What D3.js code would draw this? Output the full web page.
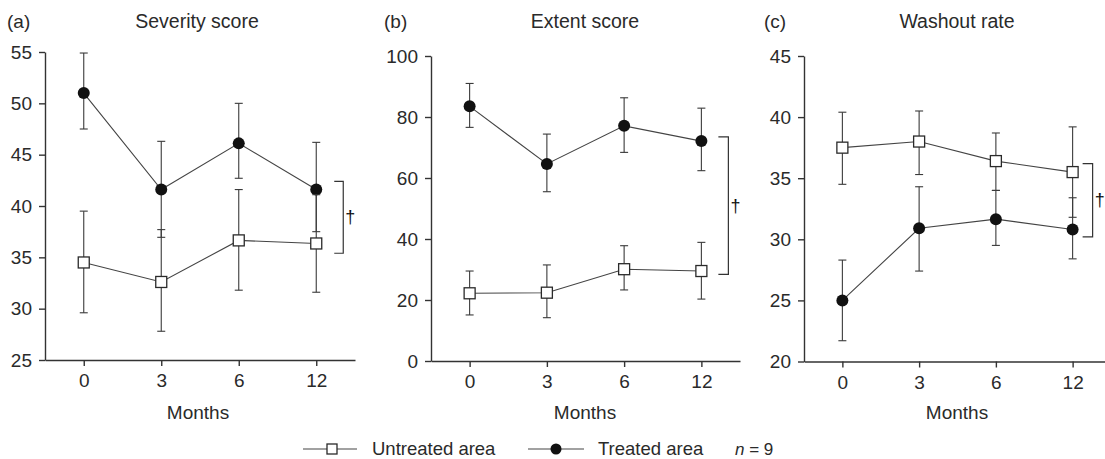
<!DOCTYPE html>
<html>
<head>
<meta charset="utf-8">
<script src="https://cdn.jsdelivr.net/npm/d3@7"></script>
<style>
  body { margin: 0; background: #fff; }
  svg { font-family: "Liberation Sans", Arial, Helvetica, sans-serif; }
  .axis path, .axis line { stroke: #333; stroke-width: 1.4; }
  .axis text { fill: #2a2a2a; font-size: 19px; }
</style>
</head>
<body>
<div id="graph"></div>
<script>
// Mois (axe X, commun aux trois panneaux)
var months = ["0", "3", "6", "12"];

var panelLetters = ["(a)", "(b)", "(c)"];
var panelTitles = ["Severity score", "Extent score", "Washout rate"];

// Graduations Y
var yTicksA = [25, 30, 35, 40, 45, 50, 55];
var yTicksB = [0, 20, 40, 60, 80, 100];
var yTicksC = [20, 25, 30, 35, 40, 45];

// (a) Severity score
var severityUntreated   = [34.5, 32.6, 36.65, 36.35];
var severityUntreatedHi = [39.5, 37.7, 41.6, 41.1];
var severityUntreatedLo = [29.6, 27.8, 31.8, 31.6];
var severityTreated     = [51.0, 41.6, 46.1, 41.6];
var severityTreatedHi   = [54.9, 46.3, 50.0, 46.2];
var severityTreatedLo   = [47.5, 36.95, 42.7, 37.5];

// (b) Extent score
var extentUntreated   = [22.2, 22.4, 30.1, 29.5];
var extentUntreatedHi = [29.5, 31.5, 37.8, 38.9];
var extentUntreatedLo = [15.1, 14.2, 23.3, 20.3];
var extentTreated     = [83.5, 64.6, 77.1, 72.1];
var extentTreatedHi   = [91.0, 74.4, 86.3, 82.9];
var extentTreatedLo   = [76.6, 55.5, 68.4, 62.4];

// (c) Washout rate
var washoutUntreated   = [37.5, 38.0, 36.4, 35.5];
var washoutUntreatedHi = [40.4, 40.5, 38.7, 39.2];
var washoutUntreatedLo = [34.5, 35.3, 34.0, 31.8];
var washoutTreated     = [25.0, 30.9, 31.65, 30.8];
var washoutTreatedHi   = [28.3, 34.3, 34.0, 33.4];
var washoutTreatedLo   = [21.7, 27.4, 29.5, 28.4];

// Crochets de significativité (haut, bas)
var bracketA = [42.4, 35.4];
var bracketB = [73.5, 28.4];
var bracketC = [36.2, 30.2];

var legendLabels = ["Untreated area", "Treated area"];

// Construction des panneaux à partir des tableaux
var panneaux = [
  { ticks: yTicksA, untreated: [severityUntreated, severityUntreatedHi, severityUntreatedLo],
    treated: [severityTreated, severityTreatedHi, severityTreatedLo], bracket: bracketA },
  { ticks: yTicksB, untreated: [extentUntreated, extentUntreatedHi, extentUntreatedLo],
    treated: [extentTreated, extentTreatedHi, extentTreatedLo], bracket: bracketB },
  { ticks: yTicksC, untreated: [washoutUntreated, washoutUntreatedHi, washoutUntreatedLo],
    treated: [washoutTreated, washoutTreatedHi, washoutTreatedLo], bracket: bracketC }
];

// Mise en page (pixels)
var mise = [
  { gauche: 45,  droite: 355,  haut: 52, bas: 360, brX: [18, 27], titreX: 197, moisX: 198, lettreX: 7 },
  { gauche: 431, droite: 740,  haut: 56, bas: 361, brX: [17, 27], titreX: 585, moisX: 585, lettreX: 384 },
  { gauche: 804, droite: 1111, haut: 56, bas: 361.5, brX: [10, 20], titreX: 957, moisX: 957, lettreX: 764 }
];

var svg = d3.select("#graph").append("svg")
    .attr("width", 1105)
    .attr("height", 459);

var couleur = "#2a2a2a";

panneaux.forEach(function(p, i) {
  var m = mise[i];
  var x = d3.scalePoint().domain(months).range([m.gauche, m.droite]).padding(0.5);
  var y = d3.scaleLinear().domain(d3.extent(p.ticks)).range([m.bas, m.haut]);

  var g = svg.append("g");

  // Axes
  g.append("g")
      .attr("class", "axis")
      .attr("transform", "translate(" + m.gauche + ",0)")
      .call(d3.axisLeft(y).tickValues(p.ticks).tickSize(6).tickSizeOuter(0).tickPadding(7));
  g.append("g")
      .attr("class", "axis")
      .attr("transform", "translate(0," + m.bas + ")")
      .call(d3.axisBottom(x).tickSize(6).tickSizeOuter(0).tickPadding(8));

  // Titres
  g.append("text").attr("x", m.lettreX).attr("y", 28)
      .style("font-size", "19px").attr("fill", "#2a2a2a").text(panelLetters[i]);
  g.append("text").attr("x", m.titreX).attr("y", 28).attr("text-anchor", "middle")
      .style("font-size", "19.5px").attr("fill", "#2a2a2a").text(panelTitles[i]);
  g.append("text").attr("x", m.moisX).attr("y", 419).attr("text-anchor", "middle")
      .style("font-size", "19px").attr("fill", "#2a2a2a").text("Months");

  [p.treated, p.untreated].forEach(function(serie, k) {
    var pts = months.map(function(mo, j) {
      return { mois: mo, v: serie[0][j], hi: serie[1][j], lo: serie[2][j] };
    });

    // Barres d'erreur
    var eb = g.append("g").attr("stroke", "#3a3a3a").attr("stroke-width", 1.1);
    eb.selectAll(".eb").data(pts).enter().append("line")
        .attr("x1", function(d) { return x(d.mois); })
        .attr("x2", function(d) { return x(d.mois); })
        .attr("y1", function(d) { return y(d.hi); })
        .attr("y2", function(d) { return y(d.lo); });
    eb.selectAll(".caphi").data(pts).enter().append("line")
        .attr("x1", function(d) { return x(d.mois) - 4; })
        .attr("x2", function(d) { return x(d.mois) + 4; })
        .attr("y1", function(d) { return y(d.hi); })
        .attr("y2", function(d) { return y(d.hi); });
    eb.selectAll(".caplo").data(pts).enter().append("line")
        .attr("x1", function(d) { return x(d.mois) - 4; })
        .attr("x2", function(d) { return x(d.mois) + 4; })
        .attr("y1", function(d) { return y(d.lo); })
        .attr("y2", function(d) { return y(d.lo); });

    // Ligne
    g.append("path")
        .datum(pts)
        .attr("fill", "none")
        .attr("stroke", "#444")
        .attr("stroke-width", 1.1)
        .attr("d", d3.line().x(function(d) { return x(d.mois); }).y(function(d) { return y(d.v); }));

    // Marqueurs
    if (k === 0) {
      g.selectAll(".pt" + i).data(pts).enter().append("circle")
          .attr("cx", function(d) { return x(d.mois); })
          .attr("cy", function(d) { return y(d.v); })
          .attr("r", 6)
          .attr("fill", "#111");
    } else {
      g.selectAll(".sq" + i).data(pts).enter().append("rect")
          .attr("x", function(d) { return x(d.mois) - 5.5; })
          .attr("y", function(d) { return y(d.v) - 5.5; })
          .attr("width", 11)
          .attr("height", 11)
          .attr("fill", "#fff")
          .attr("stroke", couleur)
          .attr("stroke-width", 1.3);
    }
  });

  // Crochet + dague
  var bx0 = x("12") + m.brX[0], bx1 = x("12") + m.brX[1];
  var bt = y(p.bracket[0]), bb = y(p.bracket[1]);
  g.append("path")
      .attr("fill", "none")
      .attr("stroke", "#333")
      .attr("stroke-width", 1.2)
      .attr("d", "M" + bx0 + "," + bt + "H" + bx1 + "V" + bb + "H" + bx0);
  g.append("text")
      .attr("x", bx1 + 2)
      .attr("y", (bt + bb) / 2 + 6)
      .style("font-size", "18px")
      .attr("fill", "#111")
      .text("\u2020");
});

// Légende
var leg = svg.append("g").attr("fill", "#2a2a2a").style("font-size", "18.5px");
var legY = 449;
leg.append("line").attr("x1", 303).attr("x2", 357).attr("y1", legY).attr("y2", legY)
    .attr("stroke", "#444").attr("stroke-width", 1.1);
leg.append("rect").attr("x", 327).attr("y", legY - 5).attr("width", 10).attr("height", 10)
    .attr("fill", "#fff").attr("stroke", couleur).attr("stroke-width", 1.3);
leg.append("text").attr("x", 372).attr("y", legY + 6).text(legendLabels[0]);
leg.append("line").attr("x1", 528).attr("x2", 584).attr("y1", legY).attr("y2", legY)
    .attr("stroke", "#444").attr("stroke-width", 1.1);
leg.append("circle").attr("cx", 556).attr("cy", legY).attr("r", 5.5).attr("fill", "#111");
leg.append("text").attr("x", 598).attr("y", legY + 6).text(legendLabels[1]);
var nt = leg.append("text").attr("x", 735).attr("y", legY + 6).style("font-size", "17px");
nt.append("tspan").style("font-style", "italic").text("n");
nt.append("tspan").text(" = 9");
</script>
</body>
</html>
